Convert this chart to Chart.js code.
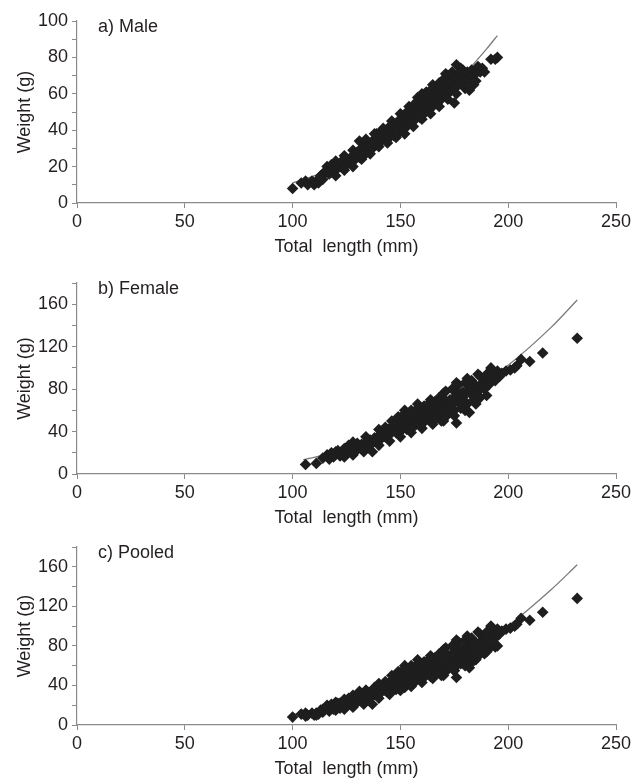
<!DOCTYPE html>
<html>
<head>
<meta charset="utf-8">
<script src="https://cdn.jsdelivr.net/npm/chart.js@4.4.1/dist/chart.umd.min.js"></script>
<style>
html, body { margin: 0; padding: 0; background: #fff; width: 637px; height: 779px; overflow: hidden; }
.panel { position: absolute; left: 0; width: 637px; }
</style>
</head>
<body>
<div class="panel" style="top:0px"><canvas id="chartA" width="637" height="260"></canvas></div>
<div class="panel" style="top:262px"><canvas id="chartB" width="637" height="269"></canvas></div>
<div class="panel" style="top:522px"><canvas id="chartC" width="637" height="260"></canvas></div>
<script>
// [total length mm, weight g]
var malePoints = [
  [100,8],
  [104,11],[106,12],[107,10],[109,12],[110,10],[111,12],[112,11],
  [113,15],[114,13],[114,16],[115,17],[116,20],[116,17],[117,16],[118,21],[118,17],[119,19],[119,18],
  [120,18],[120,15],[120,23],[121,21],[122,20],[122,22],[123,23],[124,21],[124,18],[124,26],[125,24],
  [125,21],[126,22],[127,25],[127,22],[128,23],[128,20],[128,29],[129,27],[129,24],[130,26],[130,28],
  [131,34],[131,29],[131,25],[132,27],[132,24],[133,31],[133,28],[133,26],[134,30],[134,35],[135,33],
  [135,29],[135,31],[136,31],[136,27],[137,34],[137,30],[137,32],[138,33],[138,38],[139,38],[139,32],
  [139,35],[140,35],[140,31],[141,39],[141,34],[141,37],[142,37],[142,41],[143,35],[143,40],[143,38],
  [144,38],[144,33],[145,36],[145,42],[145,39],[146,39],[146,45],[147,37],[147,43],[147,41],[148,40],
  [148,36],[149,38],[149,45],[149,41],[150,42],[150,49],[150,45],[151,40],[151,48],[152,44],[152,38],
  [152,47],[153,42],[153,50],[154,46],[154,53],[154,49],[155,44],[155,52],[156,48],[156,42],[156,51],
  [157,46],[157,55],[158,50],[158,58],[158,53],[159,47],[159,57],[159,51],[160,52],[160,60],[160,46],
  [161,49],[161,56],[162,55],[162,61],[163,51],[163,58],[164,57],[164,62],[164,49],[165,53],[165,65],
  [165,59],[166,59],[166,63],[167,55],[167,62],[168,61],[168,66],[168,53],[169,57],[169,64],[170,63],
  [170,68],[171,59],[171,71],[171,65],[172,65],[172,70],[172,57],[173,61],[173,67],[174,67],[174,72],
  [175,63],[175,55],[175,68],[176,76],[176,69],[176,60],[177,65],[177,71],[178,71],[178,67],[178,74],
  [179,73],[179,70],[180,66],[180,70],[180,63],[181,72],[181,68],[182,62],[182,68],[183,73],[183,70],
  [184,70],[184,65],[185,67],[185,72],[186,75],[187,72],[188,74],[189,72],[192,79],[194,79],[195,80]
];
var femalePoints = [
  [106,9],[111,10],
  [114,15],[116,18],[117,14],[118,20],[119,16],[120,19],[120,21],[121,22],[122,17],[122,20],[123,21],
  [124,24],[124,16],[125,19],[126,27],[126,24],[127,23],[128,21],[128,18],[128,30],[129,26],[130,29],
  [130,23],[130,26],[131,25],[132,28],[132,25],[133,24],[133,21],[134,30],[134,35],[135,27],[135,31],
  [136,32],[137,21],[137,29],[138,34],[138,31],[139,31],[140,36],[140,42],[140,27],[141,33],[141,38],
  [142,38],[143,44],[143,35],[143,39],[144,40],[145,37],[145,31],[145,42],[146,45],[146,50],[147,42],
  [147,46],[148,39],[149,47],[149,54],[149,44],[150,43],[150,40],[150,35],[151,50],[151,46],[152,45],
  [152,57],[152,60],[153,42],[153,48],[154,52],[154,56],[155,47],[155,60],[155,39],[156,44],[156,52],
  [157,55],[157,50],[158,62],[158,66],[158,54],[159,47],[159,57],[160,52],[160,43],[160,56],[161,64],
  [161,49],[162,59],[162,54],[163,54],[163,66],[164,51],[164,70],[164,60],[165,61],[165,47],[166,56],
  [166,68],[166,62],[167,53],[167,64],[168,63],[168,72],[169,58],[169,50],[169,66],[170,67],[170,76],
  [170,50],[171,62],[171,78],[171,69],[172,56],[173,70],[173,62],[174,65],[174,80],[175,60],[175,55],
  [175,72],[176,48],[176,74],[176,86],[177,68],[177,84],[177,76],[178,62],[179,77],[179,72],[179,68],
  [180,86],[180,60],[181,66],[181,90],[181,78],[182,80],[182,58],[183,75],[183,88],[183,82],[184,70],
  [185,83],[185,66],[185,76],[186,78],[186,94],[187,92],[187,72],[187,84],[188,86],[189,80],[189,90],
  [190,94],[190,88],[190,74],[191,84],[191,92],[192,100],[193,92],[194,88],[195,97],[196,92],[197,95],
  [199,97],[201,98],[203,100],[204,102],[206,108],[210,106],[216,114],[232,128]
];
// pooled = both sexes
var pooledPoints = malePoints.concat(femalePoints);

// fitted length-weight curves, read at a few lengths
var maleCurveLength = [100, 110, 120, 130, 140, 150, 160, 170, 180, 190, 195];
var maleCurveWeight = [11, 14.9, 19.6, 25.3, 32.1, 39.9, 49, 59.5, 71.3, 84.7, 92];
var femaleCurveLength = [105, 120, 140, 160, 180, 200, 220, 232];
var femaleCurveWeight = [13.5, 20.5, 33.4, 50.8, 73.6, 102.5, 138.4, 164];
var pooledCurveLength = [100, 120, 140, 160, 180, 200, 220, 232];
var pooledCurveWeight = [10.5, 19, 31.4, 48.6, 71.3, 100.4, 137, 162];

var xTicks = [0, 50, 100, 150, 200, 250];

Chart.defaults.font.family = "'Liberation Sans', Arial, sans-serif";
Chart.defaults.color = '#231f20';

function toXY(pairs) {
  return pairs.map(function(p) { return {x: p[0], y: p[1]}; });
}
function curveXY(lengths, weights) {
  return lengths.map(function(l, i) { return {x: l, y: weights[i]}; });
}

function makePanel(id, label, points, curveL, curveW, yMax, yStep, labelStep, padTop) {
  var axisGray = '#8a8a8a';
  var labelPlugin = {
    id: 'panelLabel',
    afterDraw: function(chart) {
      var ctx = chart.ctx, area = chart.chartArea;
      ctx.save();
      ctx.font = "18px 'Liberation Sans', Arial, sans-serif";
      ctx.fillStyle = '#231f20';
      ctx.textBaseline = 'middle';
      ctx.fillText(label, area.left + 21, area.top + 6);
      ctx.restore();
    }
  };
  return new Chart(document.getElementById(id), {
    type: 'scatter',
    data: {
      datasets: [
        {
          data: toXY(points),
          pointStyle: 'rectRot',
          pointRadius: 5.8,
          pointBackgroundColor: '#1e1e1e',
          pointBorderWidth: 0,
          order: 0
        },
        {
          type: 'line',
          data: curveXY(curveL, curveW),
          borderColor: '#7a7a7a',
          borderWidth: 1.3,
          pointRadius: 0,
          cubicInterpolationMode: 'monotone',
          fill: false,
          order: 1
        }
      ]
    },
    options: {
      responsive: false,
      devicePixelRatio: 1,
      animation: false,
      layout: { padding: { top: padTop, right: 21, left: 0, bottom: 0 } },
      plugins: { legend: { display: false }, tooltip: { enabled: false } },
      scales: {
        x: {
          type: 'linear',
          min: 0,
          max: 250,
          afterFit: function(scale) { scale.height = 57; },
          afterBuildTicks: function(scale) {
            scale.ticks = xTicks.map(function(v) { return {value: v}; });
          },
          ticks: { font: { size: 18 }, padding: 3, maxRotation: 0, autoSkip: false },
          grid: { drawOnChartArea: false, tickLength: 5, color: axisGray },
          border: { color: axisGray, width: 1.2 },
          title: { display: true, text: 'Total  length (mm)', font: { size: 18 }, padding: { top: 0, bottom: 2 } }
        },
        y: {
          min: 0,
          max: yMax,
          afterFit: function(scale) { scale.width = 77; },
          ticks: {
            stepSize: yStep,
            autoSkip: false,
            font: { size: 18 },
            padding: 4,
            callback: function(v) { return v % labelStep === 0 ? v : ''; }
          },
          grid: { drawOnChartArea: false, tickLength: 5, color: axisGray },
          border: { color: axisGray, width: 1.2 },
          title: { display: true, text: 'Weight (g)', font: { size: 18 }, padding: { top: 14, bottom: 0 } }
        }
      }
    },
    plugins: [labelPlugin]
  });
}

makePanel('chartA', 'a) Male', malePoints, maleCurveLength, maleCurveWeight, 100, 10, 20, 21);
makePanel('chartB', 'b) Female', femalePoints, femaleCurveLength, femaleCurveWeight, 180, 20, 40, 21);
makePanel('chartC', 'c) Pooled', pooledPoints, pooledCurveLength, pooledCurveWeight, 180, 20, 40, 25);
</script>
</body>
</html>
